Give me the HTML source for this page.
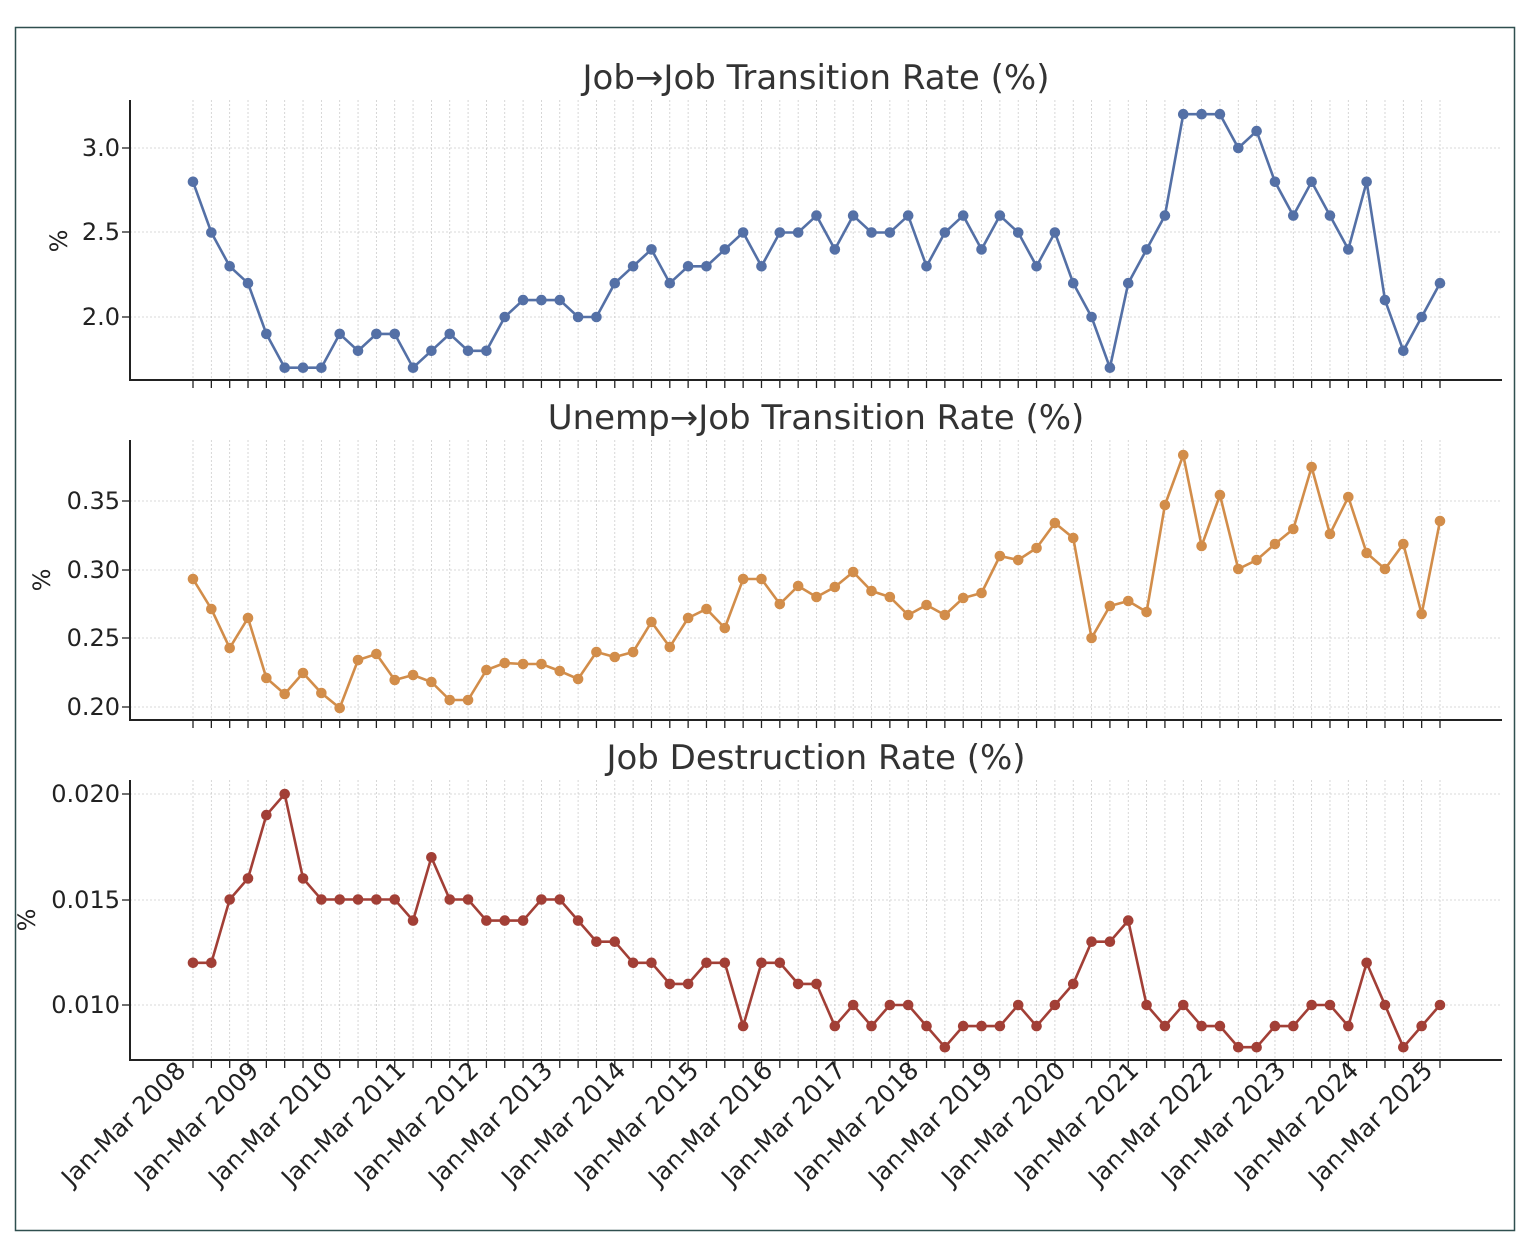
<!DOCTYPE html>
<html><head><meta charset="utf-8"><style>
body{margin:0;background:#fff}
svg{display:block;font-family:"DejaVu Sans","Liberation Sans",sans-serif}
</style></head><body>
<svg id="s" width="1529" height="1241" viewBox="0 0 1529 1241">
<rect x="15.5" y="27.5" width="1499" height="1203" fill="#fff" stroke="#2f4f4f" stroke-width="1.5"/>
<g id="grid"></g>
<g fill="#333" font-size="34" text-anchor="middle">
<text x="816" y="89">Job→Job Transition Rate (%)</text>
<text x="816" y="429">Unemp→Job Transition Rate (%)</text>
<text x="816" y="769">Job Destruction Rate (%)</text>
</g>
<g fill="#222" font-size="24" text-anchor="end">
<text x="120" y="156">3.0</text><text x="120" y="240">2.5</text><text x="120" y="325">2.0</text>
<text x="120" y="509">0.35</text><text x="120" y="578">0.30</text><text x="120" y="646">0.25</text><text x="120" y="715">0.20</text>
<text x="120" y="802">0.020</text><text x="120" y="908">0.015</text><text x="120" y="1013">0.010</text>
</g>
<g fill="#222" font-size="24" text-anchor="middle">
<text transform="translate(67,241) rotate(-90)">%</text>
<text transform="translate(50,580) rotate(-90)">%</text>
<text transform="translate(35,920) rotate(-90)">%</text>
</g>
<g id="xl" fill="#222" font-size="24.5" text-anchor="end">
<text transform="translate(187,1072) rotate(-45)">Jan-Mar 2008</text>
<text transform="translate(260,1072) rotate(-45)">Jan-Mar 2009</text>
<text transform="translate(334,1072) rotate(-45)">Jan-Mar 2010</text>
<text transform="translate(407,1072) rotate(-45)">Jan-Mar 2011</text>
<text transform="translate(480,1072) rotate(-45)">Jan-Mar 2012</text>
<text transform="translate(554,1072) rotate(-45)">Jan-Mar 2013</text>
<text transform="translate(627,1072) rotate(-45)">Jan-Mar 2014</text>
<text transform="translate(700,1072) rotate(-45)">Jan-Mar 2015</text>
<text transform="translate(774,1072) rotate(-45)">Jan-Mar 2016</text>
<text transform="translate(847,1072) rotate(-45)">Jan-Mar 2017</text>
<text transform="translate(920,1072) rotate(-45)">Jan-Mar 2018</text>
<text transform="translate(994,1072) rotate(-45)">Jan-Mar 2019</text>
<text transform="translate(1067,1072) rotate(-45)">Jan-Mar 2020</text>
<text transform="translate(1140,1072) rotate(-45)">Jan-Mar 2021</text>
<text transform="translate(1214,1072) rotate(-45)">Jan-Mar 2022</text>
<text transform="translate(1287,1072) rotate(-45)">Jan-Mar 2023</text>
<text transform="translate(1360,1072) rotate(-45)">Jan-Mar 2024</text>
<text transform="translate(1434,1072) rotate(-45)">Jan-Mar 2025</text>
</g>
<g id="data"></g>
</svg>
<script>
var NS="http://www.w3.org/2000/svg";
function el(p,t,a){var e=document.createElementNS(NS,t);for(var k in a)e.setAttribute(k,a[k]);p.appendChild(e);return e;}
var X=[];for(var i=0;i<69;i++)X.push(193+i*(1247/68));
var g=document.getElementById("grid"),d=document.getElementById("data");
var panels=[[100,380,[148,232,317]],[440,720,[501,570,638,707]],[780,1060,[794,900,1005]]];
panels.forEach(function(p){
 X.forEach(function(x){el(g,"line",{x1:x,x2:x,y1:p[0],y2:p[1],stroke:"#ccc","stroke-width":0.8,"stroke-dasharray":"2,2"});
  el(g,"line",{x1:x,x2:x,y1:p[1],y2:p[1]+8,stroke:"#222","stroke-width":1.3});});
 p[2].forEach(function(y){el(g,"line",{x1:130,x2:1502,y1:y,y2:y,stroke:"#ccc","stroke-width":0.8,"stroke-dasharray":"2,2"});
  el(g,"line",{x1:122,x2:130,y1:y,y2:y,stroke:"#222","stroke-width":1.3});});
 el(g,"polyline",{points:"130,"+p[0]+" 130,"+p[1]+" 1502,"+p[1],fill:"none",stroke:"#222","stroke-width":2});
});
var a=[2.8,2.5,2.3,2.2,1.9,1.7,1.7,1.7,1.9,1.8,1.9,1.9,1.7,1.8,1.9,1.8,1.8,2.0,2.1,2.1,2.1,2.0,2.0,2.2,2.3,2.4,2.2,2.3,2.3,2.4,2.5,2.3,2.5,2.5,2.6,2.4,2.6,2.5,2.5,2.6,2.3,2.5,2.6,2.4,2.6,2.5,2.3,2.5,2.2,2.0,1.7,2.2,2.4,2.6,3.2,3.2,3.2,3.0,3.1,2.8,2.6,2.8,2.6,2.4,2.8,2.1,1.8,2.0,2.2].map(function(v){return 148+(3-v)*169;});
var b=[579,609,648,618,678,694,673,693,708,660,654,680,675,682,700,700,670,663,664,664,671,679,652,657,652,622,647,618,609,628,579,579,604,586,597,587,572,591,597,615,605,615,598,593,556,560,548,523,538,638,606,601,612,505,455,546,495,569,560,544,529,467,534,497,553,569,544,614,521];
var c=[12,12,15,16,19,20,16,15,15,15,15,15,14,17,15,15,14,14,14,15,15,14,13,13,12,12,11,11,12,12,9,12,12,11,11,9,10,9,10,10,9,8,9,9,9,10,9,10,11,13,13,14,10,9,10,9,9,8,8,9,9,10,10,9,12,10,8,9,10].map(function(v){return 1005-(v-10)*21.1;});
[[a,"#5470a6"],[b,"#d28d4a"],[c,"#a23f36"]].forEach(function(s){
 el(d,"polyline",{points:s[0].map(function(y,i){return X[i]+","+y}).join(" "),fill:"none",stroke:s[1],"stroke-width":2.6});
 s[0].forEach(function(y,i){el(d,"circle",{cx:X[i],cy:y,r:5.3,fill:s[1]});});
});
</script>
</body></html>
